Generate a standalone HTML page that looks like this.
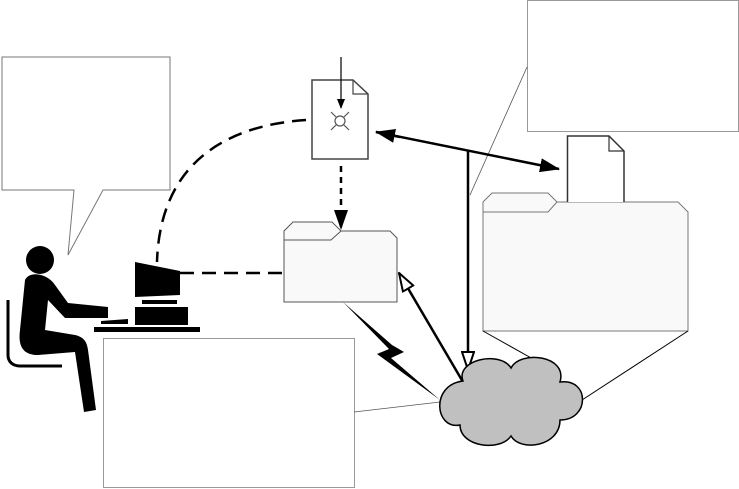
<!DOCTYPE html>
<html><head><style>html,body{margin:0;padding:0;background:#fff}svg{display:block}</style></head>
<body>
<svg width="739" height="489" viewBox="0 0 739 489" xmlns="http://www.w3.org/2000/svg">
<defs>
<marker id="fa" markerWidth="10" markerHeight="8" refX="9" refY="4" orient="auto" markerUnits="userSpaceOnUse"><path d="M0,0 L10,4 L0,8z" fill="#000"/></marker>
<marker id="fb" markerWidth="20" markerHeight="14" refX="19" refY="7" orient="auto" markerUnits="userSpaceOnUse"><path d="M0,0 L20,7 L0,14z" fill="#000"/></marker>
<marker id="ob" markerWidth="20" markerHeight="14" refX="19" refY="7" orient="auto" markerUnits="userSpaceOnUse"><path d="M1,1 L19,7 L1,13z" fill="#fff" stroke="#000" stroke-width="2"/></marker>
</defs>
<path d="M2,57 H170 V190 H103 L68,255 L74,190 H2 Z" fill="#fff" stroke="#777" stroke-width="1"/>
<rect x="527.5" y="0.5" width="211" height="131" fill="#fff" stroke="#999"/>
<line x1="527" y1="67" x2="470" y2="195" stroke="#555" stroke-width="0.8"/>
<rect x="103.5" y="338.5" width="251" height="149" fill="#fff" stroke="#999"/>
<line x1="354" y1="412" x2="440" y2="402" stroke="#555" stroke-width="0.8"/>
<path d="M306,120 C230,125 160,160 157,262" fill="none" stroke="#000" stroke-width="2.5" stroke-dasharray="14,8"/>
<line x1="180" y1="273" x2="284" y2="273" stroke="#000" stroke-width="2.5" stroke-dasharray="14,8"/>
<path d="M312,80 H353 L368,94 V159 H312 Z" fill="#fff" stroke="#444" stroke-width="1.5"/>
<path d="M353,80 V94 H368" fill="none" stroke="#444" stroke-width="1.2"/>
<circle cx="340" cy="121" r="5" fill="none" stroke="#555" stroke-width="1.2"/>
<path d="M331,112 L336,117 M349,112 L344,117 M331,130 L336,125 M349,130 L344,125" stroke="#555" stroke-width="1.2"/>
<line x1="341" y1="57" x2="341" y2="108" stroke="#000" stroke-width="1.2" marker-end="url(#fa)"/>
<line x1="341" y1="166" x2="341" y2="229" stroke="#000" stroke-width="2.5" stroke-dasharray="6,5" marker-end="url(#fb)"/>
<path d="M284,240 V231 L293,222 H332 L341,231 H390 L397,238 V302 H284 Z" fill="#f9f9f9" stroke="#555"/>
<path d="M284,240 H331 L341,231" fill="none" stroke="#555"/>
<path d="M483,212 V202 L492,193 H548 L557,202 H678 L688,212 V331 H483 Z" fill="#f9f9f9" stroke="#777"/>
<path d="M483,212 H548 L557,202" fill="none" stroke="#777"/>
<path d="M567.5,202 V136 H609 L624,151 V202" fill="#fff" stroke="#333" stroke-width="1.5"/>
<path d="M609,136 V151 H624" fill="none" stroke="#333" stroke-width="1.2"/>
<line x1="400" y1="137" x2="376" y2="132" stroke="#000" stroke-width="2.5" marker-end="url(#fb)"/>
<line x1="376" y1="132" x2="559" y2="169" stroke="#000" stroke-width="2.5" marker-end="url(#fb)"/>
<line x1="468" y1="150" x2="468" y2="370" stroke="#000" stroke-width="2.5" marker-end="url(#ob)"/>
<line x1="483" y1="331" x2="533" y2="359" stroke="#000" stroke-width="1"/>
<line x1="688" y1="331" x2="582" y2="400" stroke="#000" stroke-width="1"/>
<path d="M343,302 L392,345 L404,352 L391,358 L440,400 L377,354 L389,349 Z" fill="#000"/>
<line x1="463" y1="382" x2="399" y2="273" stroke="#000" stroke-width="2.5" marker-end="url(#ob)"/>
<path d="M463,381 C455,360 500,350 511,368 C520,350 568,355 560,382 C590,378 590,420 560,420 C560,447 520,452 511,436 C500,452 460,447 460,425 C435,430 430,385 463,381 Z" fill="#c0c0c0" stroke="#000" stroke-width="1.5"/>
<circle cx="40" cy="260" r="14" fill="#000"/>
<path d="M25,280 C30,270 48,274 55,285 L68,303 L108,307 L108,318 L65,318 L48,300 L45,330 L75,335 C84,337 87,342 88,350 L96,410 L84,412 L75,352 L38,355 C22,355 18,345 20,330 Z" fill="#000"/>
<path d="M8,300 V355 C8,362 13,366 20,366 H62" fill="none" stroke="#000" stroke-width="3"/>
<path d="M135,262 L180,271 V295 L135,297 Z" fill="#000"/>
<rect x="142" y="300" width="35" height="4" fill="#000"/>
<rect x="135" y="307" width="53" height="18" fill="#000"/>
<rect x="94" y="327" width="106" height="5" fill="#000"/>
<path d="M101,321 L128,319 V324 H101 Z" fill="#000"/>
</svg>
</body></html>
